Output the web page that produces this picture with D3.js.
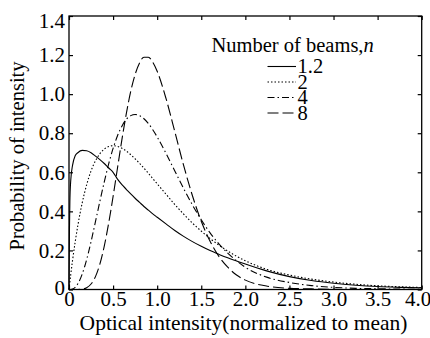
<!doctype html>
<html lang="en">
<head>
  <meta charset="utf-8">
  <title>Probability of intensity - D3</title>
  <style>
    body { margin: 0; background: #fff; }
    svg { display: block; font-family: "Liberation Serif", "Times New Roman", serif; }
  </style>
</head>
<body>
  <svg width="430" height="338"></svg>

  <script src="https://cdn.jsdelivr.net/npm/d3@7"></script>
  <script>
    // data
    var intensity = [0, 0.005, 0.01, 0.02, 0.04, 0.07, 0.1, 0.15, 0.2, 0.25, 0.3, 0.35, 0.4, 0.45, 0.5,
      0.55, 0.6, 0.65, 0.7, 0.75, 0.8, 0.85, 0.9, 0.95, 1.0, 1.1, 1.2, 1.3, 1.4, 1.5, 1.6, 1.7, 1.8, 1.9, 2.0,
      2.25, 2.5, 2.75, 3.0, 3.25, 3.5, 3.75, 4.0];
    var beams = ['1.2', '2', '4', '8'];
    var n12 = [0, 0.30, 0.45, 0.56, 0.635, 0.685, 0.70, 0.712, 0.71, 0.70, 0.683, 0.665, 0.645, 0.622, 0.60,
      0.565, 0.537, 0.513, 0.489, 0.467, 0.446, 0.425, 0.406, 0.387, 0.37, 0.336, 0.302, 0.272, 0.245, 0.221,
      0.199, 0.180, 0.162, 0.146, 0.13, 0.094, 0.066, 0.046, 0.032, 0.022, 0.015, 0.011, 0.008];
    var n2 = [0, 0.02, 0.039, 0.077, 0.148, 0.243, 0.327, 0.444, 0.536, 0.607, 0.659, 0.695, 0.719, 0.732, 0.736,
      0.732, 0.723, 0.709, 0.690, 0.669, 0.646, 0.621, 0.595, 0.568, 0.541, 0.488, 0.435, 0.386, 0.340, 0.299,
      0.261, 0.227, 0.197, 0.170, 0.147, 0.102, 0.074, 0.053, 0.038, 0.027, 0.019, 0.014, 0.010];
    var n4 = [0, 0, 0, 0.0003, 0.0023, 0.011, 0.029, 0.079, 0.153, 0.245, 0.347, 0.451, 0.551, 0.643, 0.722,
      0.787, 0.836, 0.871, 0.890, 0.896, 0.890, 0.874, 0.850, 0.818, 0.781, 0.697, 0.607, 0.517, 0.433, 0.357,
      0.290, 0.234, 0.186, 0.147, 0.114, 0.062, 0.036, 0.020, 0.011, 0.006, 0.004, 0.002, 0.001];
    var n8 = [0, 0, 0, 0, 0, 0, 0, 0.002, 0.009, 0.028, 0.066, 0.130, 0.222, 0.340, 0.476,
      0.622, 0.767, 0.900, 1.014, 1.101, 1.160, 1.189, 1.189, 1.163, 1.117, 0.978, 0.808, 0.635, 0.480, 0.349,
      0.247, 0.169, 0.114, 0.074, 0.048, 0.017, 0.006, 0.003, 0.001, 0, 0, 0, 0];
    var xTicks = [0, 0.5, 1.0, 1.5, 2.0, 2.5, 3.0, 3.5, 4.0];
    var yTicks = [0, 0.2, 0.4, 0.6, 0.8, 1.0, 1.2, 1.4];

    var series = [n12, n2, n4, n8];
    var dashes = ['none', '1.5,2', '7,3,1.5,3', '11,4'];

    var svg = d3.select('svg');
    // plot box edges (window.top is read-only, so no plain "top")
    var boxL = 69, boxR = 421.7, boxT = 16, boxB = 289.5;
    var x = d3.scaleLinear().domain([0, 4]).range([boxL, boxR]);
    var y = d3.scaleLinear().domain([0, 1.4]).range([boxB, boxT]);
    var fmt = function (v) { return v === 0 ? '0' : d3.format('.1f')(v) };

    // axes, ticks point inward
    var gx = svg.append('g').attr('transform', 'translate(0,' + boxB + ')')
      .call(d3.axisBottom(x).tickValues(xTicks).tickSize(-4).tickPadding(2).tickFormat(fmt));
    var gy = svg.append('g').attr('transform', 'translate(' + boxL + ',0)')
      .call(d3.axisLeft(y).tickValues(yTicks).tickSize(-4).tickPadding(4).tickFormat(fmt));
    svg.append('g').attr('transform', 'translate(0,' + boxT + ')')
      .call(d3.axisTop(x).tickValues(xTicks).tickSize(-4).tickFormat(''));
    svg.append('g').attr('transform', 'translate(' + boxR + ',0)')
      .call(d3.axisRight(y).tickValues(yTicks).tickSize(-4).tickFormat(''));

    svg.selectAll('.domain').remove();
    svg.selectAll('.tick line').attr('stroke', '#000').attr('stroke-width', 1.2);
    svg.selectAll('.tick text').attr('fill', '#000').attr('font-size', 21)
      .attr('font-family', '"Liberation Serif", serif');
    gy.selectAll('.tick text').filter(function (d) { return d === 1.4 }).attr('dy', '0.55em');
    gy.selectAll('.tick text').filter(function (d) { return d === 0 }).attr('dy', '0.22em');
    gx.selectAll('.tick text').filter(function (d) { return d === 4 }).attr('text-anchor', 'end').attr('x', 9);

    // plotting area frame
    svg.append('rect')
      .attr('x', boxL).attr('y', boxT)
      .attr('width', boxR - boxL).attr('height', boxB - boxT)
      .attr('fill', 'none').attr('stroke', '#000').attr('stroke-width', 1.3);

    var line = d3.line()
      .x(function (d, i) { return x(intensity[i]) })
      .y(function (d) { return y(d) })
      .curve(d3.curveMonotoneX);

    svg.append('g').selectAll('path').data(series).enter()
      .append('path')
      .attr('d', line)
      .attr('fill', 'none')
      .attr('stroke', '#000')
      .attr('stroke-width', 1.1)
      .attr('stroke-dasharray', function (d, i) { return dashes[i] });

    // legend
    var legend = svg.append('g');
    var title = legend.append('text')
      .attr('x', 211.5).attr('y', 52)
      .attr('font-size', 20.5);
    title.append('tspan').text('Number of beams,');
    title.append('tspan').attr('font-style', 'italic').text('n');

    var items = legend.selectAll('g.item').data(beams).enter()
      .append('g').attr('class', 'item')
      .attr('transform', function (d, i) { return 'translate(0,' + (66.5 + i * 15.5) + ')' });
    items.append('line')
      .attr('x1', 267.5).attr('x2', 296)
      .attr('stroke', '#000').attr('stroke-width', 1.1)
      .attr('stroke-dasharray', function (d, i) { return dashes[i] });
    items.append('text')
      .attr('x', 297.5).attr('dy', '0.33em')
      .attr('font-size', 20.5)
      .text(function (d) { return d });

    // axis titles
    svg.append('text')
      .attr('x', 243.5).attr('y', 330)
      .attr('text-anchor', 'middle').attr('font-size', 21.5)
      .text('Optical intensity(normalized to mean)');
    svg.append('text')
      .attr('transform', 'translate(24,156) rotate(-90)')
      .attr('text-anchor', 'middle').attr('font-size', 20.5)
      .text('Probability of intensity');
  </script>
</body>
</html>
